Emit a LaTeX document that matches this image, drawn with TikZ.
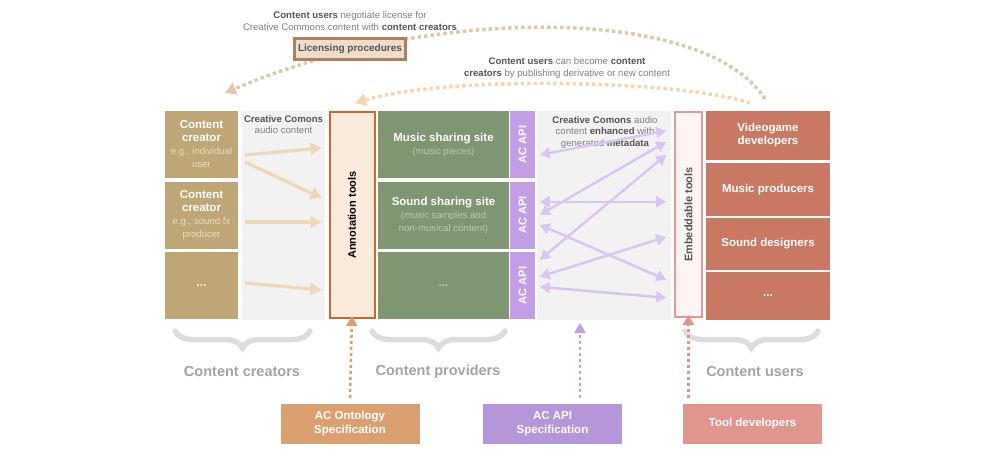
\documentclass[tikz,border=0pt]{standalone}
\usepackage{fontspec}
\setmainfont{Liberation Sans}
\usetikzlibrary{calc,arrows.meta,decorations.pathreplacing}

\newcommand{\bigtxt}{\fontsize{11.5}{13}\selectfont\bfseries}
\newcommand{\subtxt}{\fontsize{9.6}{11.5}\selectfont\mdseries}
\newcommand{\notetxt}{\fontsize{9.6}{11.8}\selectfont}

\begin{document}
\begin{tikzpicture}[x=1pt,y=-1pt,
    cell/.style={inner sep=0pt, align=center, text=white, font=\bigtxt},
    creator/.style={cell, fill=crC, minimum width=73pt, minimum height=67pt},
    site/.style={cell, fill=siteC, minimum width=131pt, minimum height=67pt},
    apibox/.style={cell, fill=apiC, rotate=90, minimum width=67pt, minimum height=25pt, font=\fontsize{11}{13}\selectfont\bfseries},
    user/.style={cell, fill=userC, minimum width=124pt},
    spec/.style={cell, minimum width=139pt, minimum height=40pt, font=\fontsize{11.5}{14}\selectfont\bfseries},
    zone/.style={fill=greyC, inner sep=0pt, minimum height=209pt},
    group/.style={text=labelC, font=\fontsize{14.5}{16}\selectfont\bfseries},
    note/.style={align=center, text=noteC, font=\notetxt, inner sep=0pt},
    brace/.style={draw=braceC, line width=5.5pt, line cap=round,
      decorate, decoration={brace, amplitude=17pt}},
    feed/.style={draw=tanA, line width=3.2pt, -{Triangle[length=11pt,width=12pt]}},
    link/.style={draw=purpA, line width=2.5pt,
      {Triangle[length=10pt,width=11pt]}-{Triangle[length=10pt,width=11pt]}},
    spec arrow/.style={line width=2.5pt, dash pattern=on 3pt off 3pt,
      -{Triangle[length=10pt,width=11pt]}},
    arc/.style={line width=3.5pt, dash pattern=on 3.5pt off 3pt,
      -{Triangle[length=11pt,width=12pt]}}
  ]
    \definecolor{crC}{HTML}{BEA676}     % creators
    \definecolor{crSub}{HTML}{E6DCC4}
    \definecolor{greyC}{HTML}{F2F2F2}
    \definecolor{annotFill}{HTML}{FBEBDC}
    \definecolor{annotDraw}{HTML}{C8692C}
    \definecolor{siteC}{HTML}{7E9672}   % providers
    \definecolor{siteSub}{HTML}{BACAB1}
    \definecolor{apiC}{HTML}{C39EE6}
    \definecolor{embFill}{HTML}{FDF5F5}
    \definecolor{embDraw}{HTML}{E39A97}
    \definecolor{userC}{HTML}{C97863}   % users
    \definecolor{tanA}{HTML}{EFD8BA}
    \definecolor{purpA}{HTML}{DAC6F0}
    \definecolor{braceC}{HTML}{DDDDDD}
    \definecolor{labelC}{HTML}{A3A3A3}
    \definecolor{noteC}{HTML}{808080}
    \definecolor{boldC}{HTML}{555555}
    \definecolor{ontC}{HTML}{DBA06F}
    \definecolor{specC}{HTML}{B596D8}
    \definecolor{toolC}{HTML}{E0958F}
    \definecolor{licFill}{HTML}{EFDCCB}
    \definecolor{licDraw}{HTML}{A98264}
    \definecolor{arcA}{HTML}{DEC8AA}
    \definecolor{arcB}{HTML}{F2D6B0}

    \useasboundingbox (0,0) rectangle (1000,450);

    % creators
    \node[creator] (cr1) at (201.5,144.5) {Content\\creator\\{\subtxt\color{crSub}e.g., individual}\\{\subtxt\color{crSub}user}};
    \node[creator] (cr2) at (201.5,215) {Content\\creator\\{\subtxt\color{crSub}e.g., sound fx}\\{\subtxt\color{crSub}producer}};
    \node[creator] (cr3) at (201.5,285.5) {...};
    \node[zone, minimum width=83pt] (gL) at (283.5,215.5) {};
    \node[note, anchor=north] (ccL) at (283.5,115) {\textcolor{boldC}{\textbf{Creative Comons}}\\audio content};

    \node[draw=annotDraw, fill=annotFill, line width=2pt, rotate=90, minimum width=206pt,
      minimum height=45pt, inner sep=0pt, font=\fontsize{11}{13}\selectfont\bfseries] (annot) at (352,215) {Annotation tools};

    % providers
    \node[site] (s1) at (443.5,144.5) {Music sharing site\\{\subtxt\color{siteSub}(music pieces)}};
    \node[site] (s2) at (443.5,215) {Sound sharing site\\{\subtxt\color{siteSub}(music samples and}\\{\subtxt\color{siteSub}non-musical content)}};
    \node[site] (s3) at (443.5,285.5) {\textcolor{siteSub}{...}};
    \node[apibox] (api1) at (522.5,144.5) {AC API};
    \node[apibox] (api2) at (522.5,215) {AC API};
    \node[apibox] (api3) at (522.5,285.5) {AC API};

    \node[zone, minimum width=134pt] (gR) at (604,215.5) {};
    \node[note, anchor=north] (ccR) at (605,116) {\textcolor{boldC}{\textbf{Creative Comons}} audio\\content \textcolor{boldC}{\textbf{enhanced}} with\\generated \textcolor{boldC}{\textbf{metadata}}};

    \node[draw=embDraw, fill=embFill, line width=2pt, rotate=90, minimum width=205pt,
      minimum height=27pt, inner sep=0pt, text=boldC, font=\fontsize{11}{13}\selectfont\bfseries] (emb) at (688.5,214.5) {Embeddable tools};

    % users
    \node[user, minimum height=49pt] (u1) at (768,135.5) {Videogame\\developers};
    \node[user, minimum height=53pt] (u2) at (768,189.5) {Music producers};
    \node[user, minimum height=52pt] (u3) at (768,244) {Sound designers};
    \node[user, minimum height=48pt] (u4) at (768,296) {...};

    % creators -> annotation tools
    \draw[feed] ($(cr1.east)+(7,10.5)$) -- ($(annot.north)+(-7,-67)$);
    \draw[feed] ($(cr1.east)+(7,17.5)$) -- ($(annot.north)+(-7,-17)$);
    \draw[feed] ($(cr2.east)+(7,7)$) -- ($(annot.north)+(-7,7)$);
    \draw[feed] ($(cr3.east)+(7,-2.5)$) -- ($(annot.north)+(-7,75)$);

    % api <-> embeddable tools
    \foreach \a/\b in {44/20, 91/91, 104/31, 114/169, 149/44, 166/126, 176/187}
      \draw[link] ($(gR.north west)+(3,\a)$) -- ($(gR.north east)+(-5,\b)$);

    % top arcs
    \coordinate (arcAstart) at (765,99);
    \coordinate (arcAend) at (225,93);
    \coordinate (arcBstart) at (750,103);
    \coordinate (arcBend) at (355,103);
    \draw[arc, draw=arcA] (arcAstart) .. controls (705,5) and (430,5) .. (arcAend);
    \draw[arc, draw=arcB] (arcBstart) .. controls (680,80) and (450,75) .. (arcBend);

    \node[draw=licDraw, fill=licFill, line width=3pt, minimum width=111pt, minimum height=21pt,
      inner sep=0pt, text=boldC, font=\fontsize{10}{12}\selectfont\bfseries] (lic) at (350,49) {Licensing procedures};
    \node[note] (negot) at (350,21) {\textcolor{boldC}{\textbf{Content users}} negotiate license for\\Creative Commons content with \textcolor{boldC}{\textbf{content creators}}};
    \node[note] (become) at (567,68) {\textcolor{boldC}{\textbf{Content users}} can become \textcolor{boldC}{\textbf{content}}\\\textcolor{boldC}{\textbf{creators}} by publishing derivative or new content};

    % braces
    \draw[brace] (310,331) -- (175,331);
    \draw[brace] (505,331) -- (372,331);
    \draw[brace] (818,331) -- (685,331);
    \node[group] (gCr) at (242,372) {Content creators};
    \node[group] (gPr) at (438,372) {Content providers};
    \node[group] (gUs) at (755,372) {Content users};

    % specifications
    \node[spec, fill=ontC] (ont) at (350,424) {AC Ontology\\Specification};
    \node[spec, fill=specC] (apispec) at (552.5,424) {AC API\\Specification};
    \node[spec, fill=toolC] (tooldev) at (752.5,424) {Tool developers};
    \coordinate (apitip) at (580,323);

    \draw[spec arrow, draw=ontC] ($(ont.north)+(0,-6)$) -- ($(annot.west)+(0,-3)$);
    \draw[spec arrow, draw=apiC] ($(apispec.north -| apitip)+(0,-6)$) -- (apitip);
    \draw[spec arrow, draw=toolC] ($(tooldev.north -| emb.west)+(0,-6)$) -- ($(emb.west)+(0,-3)$);
  \end{tikzpicture}
\end{document}
